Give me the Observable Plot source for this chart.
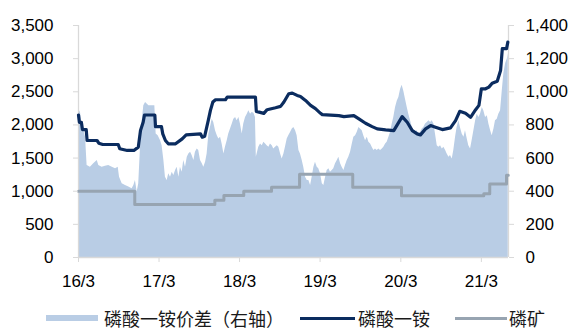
<!DOCTYPE html>
<html>
<head>
<meta charset="utf-8">
<script src="https://cdn.jsdelivr.net/npm/d3@7"></script>
<script src="https://cdn.jsdelivr.net/npm/@observablehq/plot@0.6"></script>
<style>
  body { margin: 0; background: #fff; }
  #wrap { position: relative; width: 574px; height: 332px; overflow: hidden; background: #fff; }
  #wrap svg { position: absolute; left: 0; top: 0; }
  .key { position: absolute; font-family: "Noto Sans CJK SC", sans-serif; font-size: 18px; line-height: 18px; color: #1a1a1a; white-space: nowrap; }
  .sw { position: absolute; }
</style>
</head>
<body>
<div id="wrap"></div>
<script>
// 磷酸一铵 (MAP) price, yuan/t — left axis
const mapDates = ["2016-03-01","2016-03-05","2016-03-14","2016-03-19","2016-04-05","2016-04-09","2016-05-24","2016-06-01","2016-06-19","2016-08-28","2016-09-04","2016-10-08","2016-11-07","2016-11-27","2016-12-07","2016-12-19","2016-12-25","2017-02-10","2017-02-13","2017-03-12","2017-03-18","2017-03-30","2017-04-12","2017-05-15","2017-06-14","2017-07-02","2017-09-05","2017-09-13","2017-09-24","2017-10-10","2017-10-20","2017-10-31","2017-11-12","2017-12-27","2018-01-04","2018-05-12","2018-05-16","2018-06-19","2018-07-04","2018-08-11","2018-09-03","2018-09-18","2018-10-10","2018-10-26","2018-11-17","2018-12-02","2018-12-25","2019-01-17","2019-02-08","2019-03-03","2019-03-11","2019-05-25","2019-06-17","2019-08-01","2019-08-24","2019-09-23","2019-10-23","2019-11-15","2019-12-23","2020-01-29","2020-03-07","2020-03-30","2020-04-22","2020-05-14","2020-05-29","2020-06-21","2020-07-14","2020-08-05","2020-09-05","2020-10-12","2020-11-04","2020-11-23","2020-12-19","2021-01-11","2021-02-03","2021-02-18","2021-03-01","2021-03-20","2021-04-04","2021-04-19","2021-05-12","2021-05-27","2021-06-04","2021-06-23","2021-06-29"];
const mapPrices = [2150,2040,2040,1930,1930,1765,1765,1725,1705,1705,1640,1615,1615,1665,1915,2040,2150,2150,1975,1975,1865,1765,1715,1715,1790,1850,1865,1815,1830,2065,2220,2345,2380,2380,2420,2420,2205,2175,2230,2260,2280,2345,2470,2480,2445,2430,2370,2295,2245,2175,2155,2140,2125,2140,2090,2025,1975,1940,1925,1915,2125,2040,1915,1865,1850,1940,1990,1965,1930,1955,2065,2205,2175,2115,2230,2295,2545,2545,2570,2630,2660,2820,3150,3150,3250];

// 磷矿 (phosphate rock) price, stepwise — left axis
const rockDates = ["2016-03-01","2016-11-11","2017-11-09","2017-12-20","2018-03-20","2018-07-24","2018-11-28","2019-07-27","2020-03-04","2021-03-12","2021-04-08","2021-06-23","2021-07-01"];
const rockPrices = [1000,800,865,935,1000,1060,1255,1060,930,960,1110,1240,1240];

// 磷酸一铵价差 (MAP spread) — right axis
const spreadDates = ["2016-03-01","2016-03-10","2016-03-18","2016-03-25","2016-04-02","2016-04-09","2016-04-24","2016-05-09","2016-05-25","2016-06-01","2016-06-16","2016-07-01","2016-07-16","2016-08-01","2016-08-16","2016-08-28","2016-09-03","2016-09-15","2016-09-30","2016-10-15","2016-10-30","2016-11-07","2016-11-14","2016-11-22","2016-11-29","2016-12-07","2016-12-15","2016-12-22","2016-12-30","2017-01-14","2017-02-10","2017-02-16","2017-02-25","2017-03-08","2017-03-15","2017-03-23","2017-03-30","2017-04-07","2017-04-14","2017-04-22","2017-04-30","2017-05-07","2017-05-15","2017-05-22","2017-05-30","2017-06-06","2017-06-14","2017-06-21","2017-06-29","2017-07-07","2017-07-14","2017-07-22","2017-07-29","2017-08-06","2017-08-13","2017-08-21","2017-08-28","2017-09-05","2017-09-13","2017-09-20","2017-09-28","2017-10-05","2017-10-13","2017-10-20","2017-10-28","2017-11-04","2017-11-12","2017-11-20","2017-11-27","2017-12-05","2017-12-12","2017-12-20","2017-12-27","2018-01-04","2018-01-11","2018-01-19","2018-01-27","2018-02-03","2018-02-11","2018-02-18","2018-02-26","2018-03-05","2018-03-13","2018-03-20","2018-03-28","2018-04-05","2018-04-12","2018-04-20","2018-04-27","2018-05-05","2018-05-12","2018-05-16","2018-05-27","2018-06-04","2018-06-12","2018-06-19","2018-06-27","2018-07-04","2018-07-12","2018-07-19","2018-07-27","2018-08-03","2018-08-11","2018-08-19","2018-08-26","2018-09-03","2018-09-10","2018-09-18","2018-09-25","2018-10-03","2018-10-10","2018-10-18","2018-10-26","2018-11-02","2018-11-10","2018-11-17","2018-11-25","2018-12-02","2018-12-10","2018-12-17","2018-12-25","2019-01-02","2019-01-09","2019-01-17","2019-01-24","2019-02-01","2019-02-08","2019-02-16","2019-02-23","2019-03-03","2019-03-11","2019-03-18","2019-03-26","2019-04-02","2019-04-10","2019-04-17","2019-04-25","2019-05-02","2019-05-10","2019-05-18","2019-05-25","2019-06-02","2019-06-09","2019-06-17","2019-06-24","2019-07-02","2019-07-09","2019-07-17","2019-07-25","2019-08-01","2019-08-09","2019-08-16","2019-08-24","2019-08-31","2019-09-08","2019-09-15","2019-09-23","2019-10-01","2019-10-08","2019-10-16","2019-10-23","2019-10-31","2019-11-07","2019-11-15","2019-11-22","2019-11-30","2019-12-08","2019-12-15","2019-12-23","2019-12-30","2020-01-07","2020-01-14","2020-01-22","2020-01-29","2020-02-06","2020-02-14","2020-02-21","2020-02-29","2020-03-07","2020-03-15","2020-03-22","2020-03-30","2020-04-06","2020-04-14","2020-04-22","2020-04-29","2020-05-07","2020-05-14","2020-05-22","2020-05-29","2020-06-06","2020-06-13","2020-06-21","2020-06-29","2020-07-06","2020-07-14","2020-07-21","2020-07-29","2020-08-05","2020-08-13","2020-08-20","2020-08-28","2020-09-05","2020-09-12","2020-09-20","2020-09-27","2020-10-05","2020-10-12","2020-10-20","2020-10-27","2020-11-04","2020-11-11","2020-11-19","2020-11-26","2020-12-04","2020-12-12","2020-12-19","2020-12-27","2021-01-03","2021-01-11","2021-01-18","2021-01-26","2021-02-03","2021-02-10","2021-02-18","2021-02-25","2021-03-05","2021-03-12","2021-03-20","2021-03-28","2021-04-04","2021-04-12","2021-04-19","2021-04-27","2021-05-04","2021-05-12","2021-05-19","2021-05-27","2021-06-04","2021-06-11","2021-06-19","2021-06-27","2021-07-01"];
const spreadValues = [895,875,785,765,725,555,545,565,585,555,545,550,555,545,535,545,485,445,435,425,415,435,465,395,445,665,825,915,935,915,915,745,735,705,675,585,485,465,505,485,515,495,525,545,485,545,515,585,545,605,625,635,615,585,635,655,645,585,565,545,575,625,745,785,835,815,765,735,715,725,685,625,665,705,745,775,805,835,845,825,845,805,745,805,845,865,885,865,875,870,845,605,665,685,675,695,685,675,665,685,675,655,665,675,665,625,595,625,665,715,735,755,775,785,765,735,645,625,585,545,485,465,465,435,485,545,575,545,535,505,445,435,485,525,535,515,525,535,565,585,605,565,545,525,555,585,605,635,685,725,735,755,785,775,765,735,705,725,695,685,665,645,655,645,655,645,655,665,685,695,725,755,805,845,905,945,965,1015,1040,1000,955,905,865,825,785,765,755,765,745,755,775,785,805,815,825,815,825,805,745,675,665,675,655,665,645,625,605,615,595,645,725,785,825,785,745,725,765,715,675,655,705,765,825,865,845,865,905,885,845,855,805,765,735,775,825,835,865,885,1010,1110,1170,1200,1230];

const yearTicks = ["2016-03-01","2017-03-01","2018-03-01","2019-03-01","2020-03-01","2021-03-01"];
const leftTicks = [0,500,1000,1500,2000,2500,3000,3500];
const xStart = "2016-03-01", xEnd = "2021-07-02";

// right axis maps onto the left scale: 1,400 ↔ 3,500
const k = 3500 / 1400;

const parse = d3.utcParse("%Y-%m-%d");
const mapRows = d3.zip(mapDates, mapPrices).map(([d, v]) => ({date: parse(d), value: v}));
const rockRows = d3.zip(rockDates, rockPrices).map(([d, v]) => ({date: parse(d), value: v}));
const spreadRows = d3.zip(spreadDates, spreadValues).map(([d, v]) => ({date: parse(d), value: v * k}));

const AREA = "#b9cde5", NAVY = "#0b2c5f", GREY = "#97a4b1", AXIS = "#d9d9d9";

const chart = Plot.plot({
  width: 574,
  height: 300,
  marginLeft: 78,
  marginRight: 66,
  marginTop: 25,
  marginBottom: 43,
  style: {fontFamily: "'Liberation Sans', Arial, sans-serif", fontSize: "17px", color: "#000", background: "transparent"},
  x: {type: "utc", domain: [parse(xStart), parse(xEnd)]},
  y: {domain: [0, 3500]},
  marks: [
    Plot.areaY(spreadRows, {x: "date", y: "value", fill: AREA}),
    Plot.ruleX([parse(xStart), parse(xEnd)], {stroke: AXIS, strokeWidth: 1.3}),
    Plot.ruleY([0], {stroke: AXIS, strokeWidth: 1.3}),
    Plot.line(rockRows, {x: "date", y: "value", curve: "step-after", stroke: GREY, strokeWidth: 3}),
    Plot.line(mapRows, {x: "date", y: "value", stroke: NAVY, strokeWidth: 3.2}),
    Plot.axisY({anchor: "left", ticks: leftTicks, tickFormat: d3.format(","), tickSize: 5, tickPadding: 20, stroke: AXIS, fill: "#000", label: null}),
    Plot.axisY({anchor: "right", ticks: leftTicks, tickFormat: d => d3.format(",")(d / k), tickSize: 5, tickPadding: 12, stroke: AXIS, fill: "#000", label: null}),
    Plot.axisX({ticks: yearTicks.map(parse), tickFormat: d3.utcFormat("%y/%-m"), tickSize: 5, tickPadding: 12, stroke: AXIS, fill: "#000", label: null})
  ]
});

const wrap = document.getElementById("wrap");
wrap.appendChild(chart);

// legend below the plot
const legend = [
  {label: "磷酸一铵价差（右轴）", color: AREA, x: 46, w: 52, h: 6, tx: 104},
  {label: "磷酸一铵", color: NAVY, x: 300, w: 55, h: 3, tx: 358},
  {label: "磷矿", color: GREY, x: 455, w: 52, h: 3, tx: 509}
];
const cy = 318;
for (const item of legend) {
  const sw = document.createElement("div");
  sw.className = "sw";
  Object.assign(sw.style, {left: item.x + "px", top: (cy - item.h / 2) + "px", width: item.w + "px", height: item.h + "px", background: item.color});
  wrap.appendChild(sw);
  const t = document.createElement("div");
  t.className = "key";
  t.textContent = item.label;
  Object.assign(t.style, {left: item.tx + "px", top: (cy - 9) + "px"});
  wrap.appendChild(t);
}
</script>
</body>
</html>
